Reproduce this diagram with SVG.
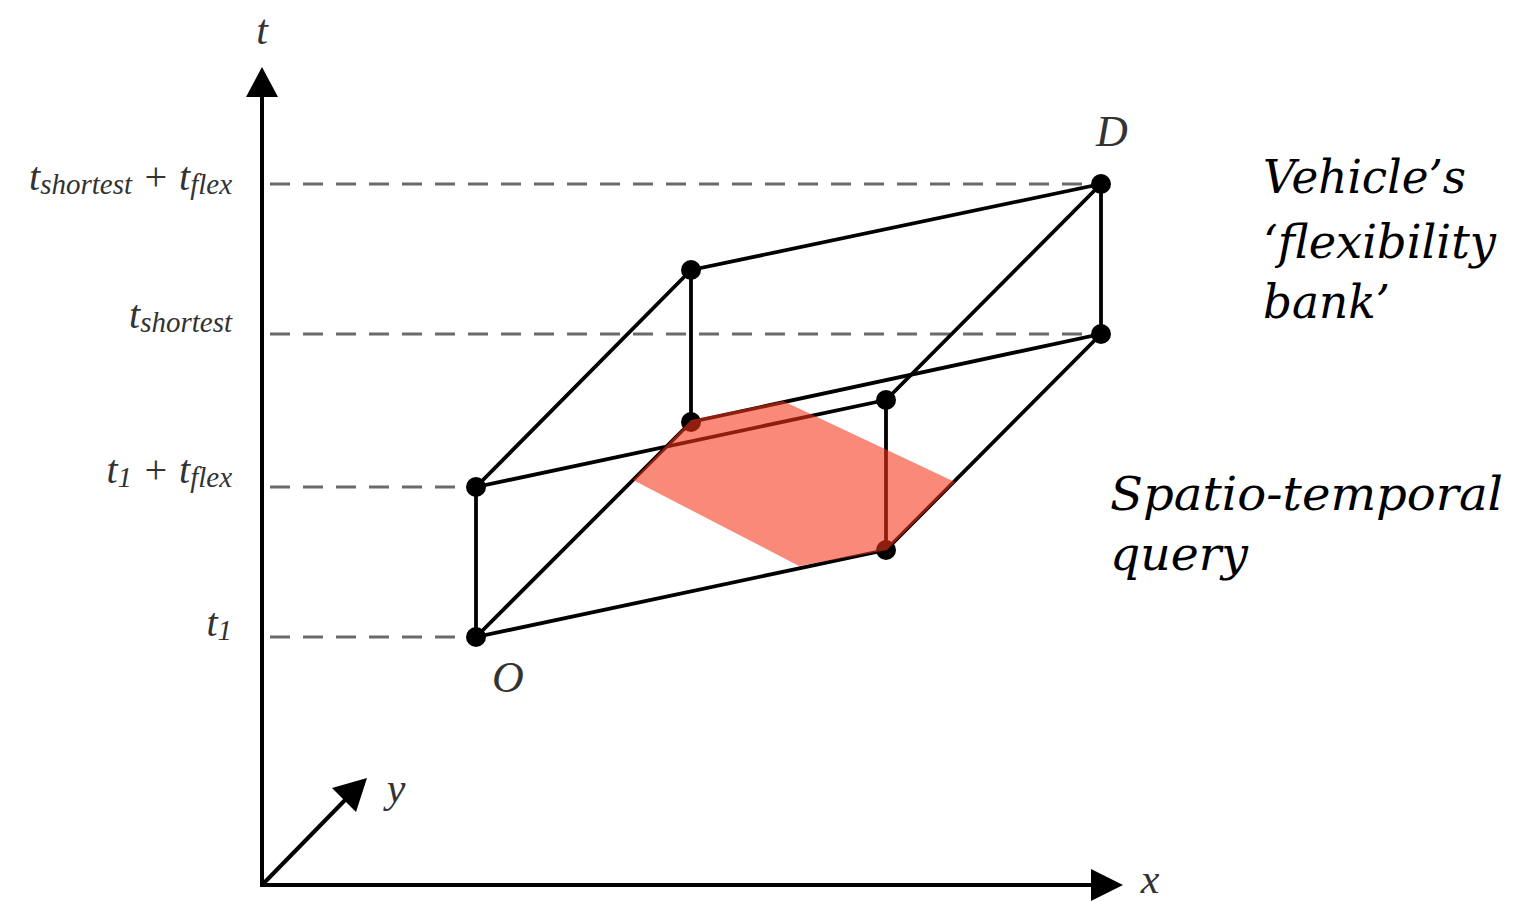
<svg xmlns="http://www.w3.org/2000/svg" width="1519" height="901" viewBox="0 0 1519 901">
<style>
.axis{stroke:#000;stroke-width:4;fill:none}
.edge{stroke:#000;stroke-width:3.8;fill:none;stroke-linecap:round}
.dash{stroke:#6a6a6a;stroke-width:3;stroke-dasharray:20 13;fill:none}
.dot{fill:#000}
.lbl{font-family:"Liberation Serif",serif;font-style:italic;fill:#333}
.sub{font-size:29px}
.big{font-family:"DejaVu Serif","Liberation Serif",serif;font-style:italic;fill:#000;font-size:46px}
</style>
<rect width="1519" height="901" fill="#fff"/>
<g id="axes">
<line class="axis" x1="262" y1="887" x2="262" y2="92"/>
<polygon points="262,67 246,97 278,97" fill="#000"/>
<line class="axis" x1="260" y1="885" x2="1095" y2="885"/>
<polygon points="1123,885 1091,869 1091,901" fill="#000"/>
<line class="axis" x1="262" y1="885" x2="348" y2="797"/>
<polygon points="367,778 332,788 356,812" fill="#000"/>
<text class="lbl" x="262" y="44" font-size="42" text-anchor="middle" fill="#111">t</text>
<text class="lbl" x="1150" y="893" font-size="42" text-anchor="middle">x</text>
<text class="lbl" x="396" y="802" font-size="42" text-anchor="middle">y</text>
</g>
<g id="levels">
<line class="dash" x1="270" y1="184" x2="1101" y2="184"/>
<line class="dash" x1="270" y1="334" x2="1101" y2="334"/>
<line class="dash" x1="270" y1="487" x2="476" y2="487"/>
<line class="dash" x1="270" y1="637" x2="476" y2="637"/>
<text class="lbl" x="232" y="190" font-size="40" text-anchor="end">t<tspan class="sub" dy="4">shortest</tspan><tspan dy="-4"> + t</tspan><tspan class="sub" dy="4">flex</tspan></text>
<text class="lbl" x="232" y="328" font-size="40" text-anchor="end">t<tspan class="sub" dy="4">shortest</tspan></text>
<text class="lbl" x="232" y="483" font-size="40" text-anchor="end">t<tspan class="sub" dy="4">1</tspan><tspan dy="-4"> + t</tspan><tspan class="sub" dy="4">flex</tspan></text>
<text class="lbl" x="232" y="636" font-size="40" text-anchor="end">t<tspan class="sub" dy="4">1</tspan></text>
</g>
<g id="connectors">
<line class="edge" x1="476" y1="637" x2="476" y2="487"/>
<line class="edge" x1="886" y1="550" x2="886" y2="400"/>
<line class="edge" x1="691" y1="422" x2="691" y2="270"/>
<line class="edge" x1="1101" y1="334" x2="1101" y2="184"/>
<line class="edge" x1="476" y1="637" x2="886" y2="550"/>
<line class="edge" x1="476" y1="637" x2="691" y2="422"/>
<line class="edge" x1="886" y1="550" x2="1101" y2="334"/>
<line class="edge" x1="691" y1="422" x2="1101" y2="334"/>
<line class="edge" x1="476" y1="487" x2="886" y2="400"/>
<line class="edge" x1="476" y1="487" x2="691" y2="270"/>
<line class="edge" x1="886" y1="400" x2="1101" y2="184"/>
<line class="edge" x1="691" y1="270" x2="1101" y2="184"/>
</g>
<g id="nodes">
<circle class="dot" cx="476" cy="637" r="10"/>
<circle class="dot" cx="476" cy="487" r="10"/>
<circle class="dot" cx="691" cy="422" r="10"/>
<circle class="dot" cx="691" cy="270" r="10"/>
<circle class="dot" cx="886" cy="550" r="10"/>
<circle class="dot" cx="886" cy="400" r="10"/>
<circle class="dot" cx="1101" cy="334" r="10"/>
<circle class="dot" cx="1101" cy="184" r="10"/>
<text class="lbl" x="508" y="692" font-size="44" text-anchor="middle" fill="#111">O</text>
<text class="lbl" x="1112" y="146" font-size="44" text-anchor="middle" fill="#111">D</text>
</g>
<g id="query">
<polygon points="633,480 691,420 783,401 955,482 887,550 799,566" fill="#f5361a" fill-opacity="0.58"/>
</g>
<g id="annotations">
<text class="big" x="1263" y="193" textLength="203" lengthAdjust="spacingAndGlyphs">Vehicle’s</text>
<text class="big" x="1263" y="258" textLength="233" lengthAdjust="spacingAndGlyphs">‘flexibility</text>
<text class="big" x="1263" y="318" textLength="127" lengthAdjust="spacingAndGlyphs">bank’</text>
<text class="big" x="1110" y="510" textLength="393" lengthAdjust="spacingAndGlyphs">Spatio-temporal</text>
<text class="big" x="1110" y="570" textLength="138" lengthAdjust="spacingAndGlyphs">query</text>
</g>
</svg>
